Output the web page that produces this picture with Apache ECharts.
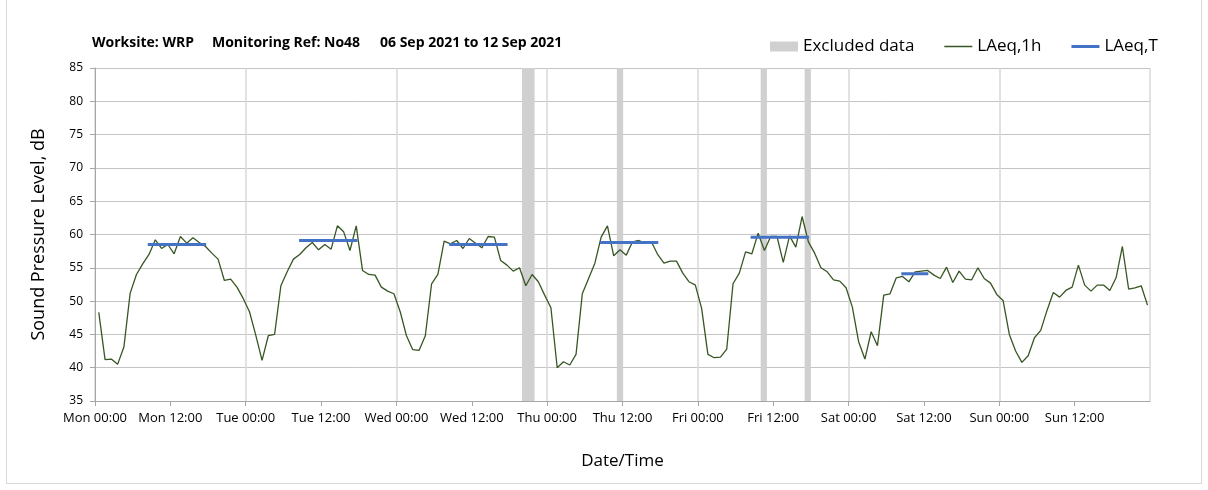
<!DOCTYPE html>
<html>
<head>
<meta charset="utf-8">
<script src="https://cdn.jsdelivr.net/npm/echarts@6/dist/echarts.min.js"></script>
<style>
    html, body { margin: 0; padding: 0; background: #fff; }
    #noiseChart { width: 1208px; height: 490px; }
    .frame {
        position: absolute; left: 6px; top: -1px; width: 1194px; height: 483px;
        border: 1px solid #d9d9d9; pointer-events: none;
    }
</style>
</head>
<body>
<div id="noiseChart"></div>
<div class="frame"></div>
<script>
    // hourly LAeq,1h readings, Mon 00:00 .. Sun 23:00
    var laeq1h = [
        48.3, 41.2, 41.3, 40.5, 43.1, 51.2, 54.0, 55.6, 57.0, 59.2, 57.9, 58.5,
        57.1, 59.7, 58.7, 59.5, 58.8, 58.2, 57.2, 56.3, 53.1, 53.3, 52.1, 50.4,
        48.4, 44.9, 41.1, 44.8, 45.0, 52.3, 54.4, 56.3, 57.0, 58.0, 58.8, 57.7,
        58.5, 57.8, 61.3, 60.4, 57.6, 61.3, 54.6, 54.0, 53.9, 52.1, 51.5, 51.1,
        48.4, 44.8, 42.7, 42.6, 44.8, 52.6, 54.0, 59.0, 58.6, 59.1, 57.9, 59.4,
        58.7, 58.0, 59.7, 59.6, 56.1, 55.4, 54.5, 55.0, 52.3, 54.0, 52.9, 50.9,
        49.0, 40.0, 40.9, 40.4, 42.0, 51.1, 53.4, 55.7, 59.6, 61.3, 56.8, 57.7,
        56.9, 58.9, 59.1, 58.7, 58.9, 57.0, 55.7, 56.0, 56.0, 54.2, 52.9, 52.4,
        48.9, 42.0, 41.5, 41.6, 42.8, 52.6, 54.2, 57.4, 57.1, 60.2, 57.6, 59.7,
        59.7, 55.8, 59.8, 58.1, 62.7, 58.9, 57.2, 55.0, 54.4, 53.2, 53.0, 52.0,
        49.1, 43.9, 41.3, 45.4, 43.3, 50.9, 51.1, 53.5, 53.7, 52.9, 54.4, 54.5,
        54.6, 53.9, 53.4, 55.1, 52.8, 54.5, 53.3, 53.2, 55.0, 53.4, 52.7, 51.0,
        50.1, 45.0, 42.5, 40.8, 41.8, 44.5, 45.6, 48.6, 51.3, 50.6, 51.6, 52.1,
        55.4, 52.4, 51.5, 52.4, 52.4, 51.6, 53.5, 58.2, 51.8, 52.0, 52.3, 49.4
    ];
    var firstReadingHour = 0.6;

    // LAeq,T periods: [start hour, end hour, level]
    var laeqTPeriods = [
        [8.4, 17.7, 58.5],
        [32.5, 41.8, 59.1],
        [56.4, 65.7, 58.5],
        [80.4, 89.7, 58.8],
        [104.4, 113.7, 59.6],
        [128.4, 132.7, 54.1]
    ];

    // excluded data periods: [start hour, end hour]
    var excludedPeriods = [
        [68.0, 70.0],
        [83.1, 84.1],
        [106.0, 107.0],
        [113.0, 114.0]
    ];

    var dayNames = ['Mon', 'Tue', 'Wed', 'Thu', 'Fri', 'Sat', 'Sun', 'Mon'];
    var titleParts = ['Worksite: WRP', 'Monitoring Ref: No48', '06 Sep 2021 to 12 Sep 2021'];
    var titleLeft = [87, 207, 375];

    var lineData = laeq1h.map(function (v, i) { return [i + firstReadingHour, v]; });
    var periodData = [];
    laeqTPeriods.forEach(function (p) {
        periodData.push([p[0], p[2]], [p[1], p[2]], [p[1], '-']);
    });

    var font = '"Open Sans", sans-serif';
    var chart = echarts.init(document.getElementById('noiseChart'));
    var option = {
        animation: false,
        title: titleParts.map(function (t, i) {
            return {
                text: t, left: titleLeft[i], top: 31,
                textStyle: { fontFamily: font, fontSize: 14, fontWeight: 'bold', color: '#000' }
            };
        }),
        legend: {
            left: 765, top: 33,
            itemWidth: 28, itemHeight: 10, itemGap: 30,
            textStyle: { fontFamily: font, fontSize: 17, color: '#000' },
            data: [
                { name: 'Excluded data', icon: 'rect', itemStyle: { color: '#d0d0d0' } },
                { name: 'LAeq,1h', icon: 'path://M0,0H56V3H0Z', itemStyle: { color: '#375623' } },
                { name: 'LAeq,T', icon: 'path://M0,0H28V3H0Z', itemStyle: { color: '#4472c4' } }
            ]
        },
        grid: { left: 95, right: 58, top: 68, bottom: 89 },
        xAxis: [{
            type: 'value', min: 0, max: 168, interval: 12,
            name: 'Date/Time', nameLocation: 'middle', nameGap: 52,
            nameTextStyle: { fontFamily: font, fontSize: 17, color: '#000' },
            axisLine: { lineStyle: { color: '#a6a6a6' } },
            axisTick: { length: 5, lineStyle: { color: '#a6a6a6' } },
            axisLabel: {
                margin: 11, showMaxLabel: false,
                fontFamily: font, fontSize: 13, color: '#000',
                formatter: function (v) {
                    return dayNames[Math.floor(v / 24)] + (v % 24 === 0 ? ' 00:00' : ' 12:00');
                }
            },
            splitLine: { show: false }
        }, {
            type: 'value', min: 0, max: 168, interval: 24, position: 'bottom',
            axisLine: { show: false }, axisTick: { show: false }, axisLabel: { show: false },
            splitLine: { show: true, lineStyle: { color: '#d9d9d9', width: 1.5 } }
        }],
        yAxis: {
            type: 'value', min: 35, max: 85, interval: 5,
            name: 'Sound Pressure Level, dB', nameLocation: 'middle', nameGap: 47,
            nameTextStyle: { fontFamily: font, fontSize: 18, color: '#000' },
            axisLine: { show: true, lineStyle: { color: '#a6a6a6' } },
            axisTick: { show: true, length: 5, lineStyle: { color: '#a6a6a6' } },
            axisLabel: { margin: 12, fontFamily: font, fontSize: 12, color: '#000' },
            splitLine: { lineStyle: { color: '#c4c4c4' } }
        },
        series: [{
            name: 'Excluded data', type: 'line', data: [], color: '#d0d0d0',
            markArea: {
                silent: true,
                itemStyle: { color: '#d0d0d0', opacity: 1 },
                data: excludedPeriods.map(function (p) {
                    return [{ xAxis: p[0] }, { xAxis: p[1] }];
                })
            }
        }, {
            name: 'LAeq,1h', type: 'line', data: lineData, symbol: 'none',
            color: '#375623', lineStyle: { width: 1.3, color: '#375623' }, z: 3
        }, {
            name: 'LAeq,T', type: 'line', data: periodData, symbol: 'none',
            color: '#4472c4', lineStyle: { width: 3, color: '#4472c4' }, z: 4
        }]
    };
    chart.setOption(option);
</script>
</body>
</html>
